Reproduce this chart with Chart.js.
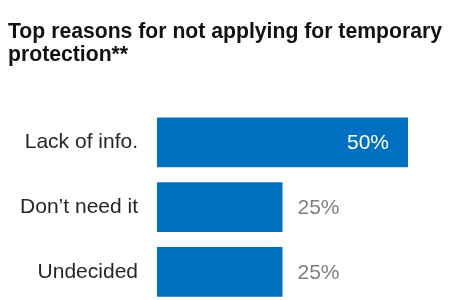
<!DOCTYPE html>
<html>
<head>
<meta charset="utf-8">
<script src="https://cdn.jsdelivr.net/npm/chart.js@4"></script>
<style>
  html, body { margin: 0; padding: 0; background: #fff; overflow: hidden; }
  canvas { display: block; }
</style>
</head>
<body>
<canvas id="chart" width="464" height="306"></canvas>
<script>
const titleLines = ['Top reasons for not applying for temporary', 'protection**'];
const categories = ['Lack of info.', 'Don\u2019t need it', 'Undecided'];
const shares = [50, 25, 25];

const FONT = '"Liberation Sans", Arial, sans-serif';

// draws the % labels: inside the long bar, after the short ones
const valueLabels = {
  id: 'valueLabels',
  afterDatasetsDraw(chart) {
    const ctx = chart.ctx;
    const meta = chart.getDatasetMeta(0);
    ctx.save();
    ctx.font = '21px ' + FONT;
    ctx.textBaseline = 'middle';
    meta.data.forEach((bar, i) => {
      const v = shares[i];
      const txt = v + '%';
      if (v > 30) {
        ctx.fillStyle = '#ffffff';
        ctx.textAlign = 'right';
        ctx.fillText(txt, bar.x - 19, bar.y + 1);
      } else {
        ctx.fillStyle = '#7f7f7f';
        ctx.textAlign = 'left';
        ctx.fillText(txt, bar.x + 15, bar.y + 1);
      }
    });
    ctx.restore();
  }
};

new Chart(document.getElementById('chart'), {
  type: 'bar',
  data: {
    labels: categories,
    datasets: [{
      data: shares,
      backgroundColor: '#0070c0',
      borderWidth: 0,
      categoryPercentage: 1,
      barPercentage: 0.77
    }]
  },
  options: {
    indexAxis: 'y',
    responsive: false,
    animation: false,
    layout: { padding: { left: 8, right: 5.8, top: 0, bottom: 1.7 } },
    plugins: {
      legend: { display: false },
      tooltip: { enabled: false },
      title: {
        display: true,
        text: titleLines,
        align: 'start',
        color: '#111111',
        font: { family: FONT, size: 21.2, weight: 'bold', lineHeight: 1.12 },
        padding: { top: 20, bottom: 42.5 }
      }
    },
    scales: {
      x: {
        display: false,
        min: 0,
        max: 60
      },
      y: {
        grid: { display: false, drawTicks: false },
        border: { display: false },
        ticks: {
          color: '#262626',
          padding: 19,
          font: { family: FONT, size: 21 }
        },
        afterFit(scale) {
          scale.width = 149;
          // no extra room for half-labels at the ends
          scale.paddingTop = 0;
          scale.paddingBottom = 0;
        }
      }
    }
  },
  plugins: [valueLabels]
});
</script>
</body>
</html>
